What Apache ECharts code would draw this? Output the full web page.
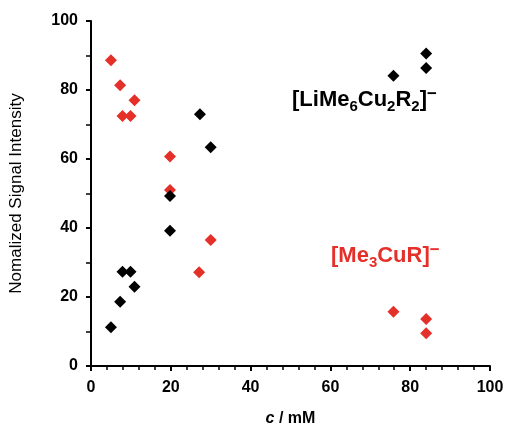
<!DOCTYPE html>
<html><head><meta charset="utf-8">
<script src="https://cdn.jsdelivr.net/npm/echarts@6/dist/echarts.min.js"></script>
<style>html,body{margin:0;padding:0;background:#fff}#c{width:506px;height:427px}</style>
</head><body><div id="c"></div>
<script>
// concentration c / mM and normalized intensities
const cuprateX = [5, 7.3, 7.9, 9.9, 10.9, 19.8, 19.8, 27.3, 30, 75.8, 84, 84];
const cuprateY = [11.2, 18.6, 27.3, 27.3, 23.0, 39.2, 49.3, 73.0, 63.4, 84.1, 90.6, 86.4];
const monoX = [5, 7.3, 7.9, 9.9, 10.9, 19.8, 19.8, 27.1, 30, 75.8, 84, 84];
const monoY = [88.6, 81.4, 72.5, 72.5, 77.0, 60.7, 51.0, 27.2, 36.5, 15.7, 13.6, 9.5];
const xTicks = [0, 20, 40, 60, 80, 100];
const yTicks = [0, 20, 40, 60, 80, 100];

const chart = echarts.init(document.getElementById('c'), null, {renderer: 'canvas'});
const font = 'Liberation Sans, Arial, sans-serif';
const red = '#e5302a';
const axisLine = {show: true, onZero: false, lineStyle: {color: '#000', width: 2}};
chart.setOption({
  animation: false,
  backgroundColor: '#fff',
  grid: {left: 91, right: 16, top: 21, bottom: 61, containLabel: false, outerBoundsMode: 'none'},
  xAxis: {
    type: 'value', min: xTicks[0], max: xTicks[xTicks.length - 1], interval: 20,
    axisLine: axisLine,
    axisTick: {show: true, length: 5, inside: false, lineStyle: {color: '#000', width: 2}},
    minorTick: {show: true, splitNumber: 5, length: 4, lineStyle: {color: '#000', width: 1.5}},
    splitLine: {show: false},
    axisLabel: {color: '#000', fontFamily: font, fontWeight: 'bold', fontSize: 16, margin: 14},
    name: '{i|c} / mM', nameLocation: 'middle', nameGap: 45,
    nameTextStyle: {color: '#000', fontFamily: font, fontWeight: 'bold', fontSize: 16,
      rich: {i: {fontStyle: 'italic', fontWeight: 'bold', fontFamily: font, fontSize: 16, color: '#000'}}}
  },
  yAxis: {
    type: 'value', min: yTicks[0], max: yTicks[yTicks.length - 1], interval: 20,
    axisLine: axisLine,
    axisTick: {show: true, length: 5, inside: false, lineStyle: {color: '#000', width: 2}},
    minorTick: {show: true, splitNumber: 2, length: 5, lineStyle: {color: '#000', width: 1.5}},
    splitLine: {show: false},
    axisLabel: {color: '#000', fontFamily: font, fontWeight: 'bold', fontSize: 16, margin: 13},
    name: 'Nomalized Signal Intensity', nameLocation: 'middle', nameGap: 66,
    nameTextStyle: {color: '#000', fontFamily: font, fontSize: 17}
  },
  series: [
    {type: 'scatter', symbol: 'diamond', symbolSize: 12,
     itemStyle: {color: red, opacity: 1},
     data: monoX.map((x, i) => [x, monoY[i]])},
    {type: 'scatter', symbol: 'diamond', symbolSize: 12,
     itemStyle: {color: '#000', opacity: 1},
     data: cuprateX.map((x, i) => [x, cuprateY[i]])}
  ],
  graphic: [
    {type: 'text', left: 292, top: 86,
     style: {text: '[LiMe{s|6}Cu{s|2}R{s|2}]{p|−}', fill: '#000', font: 'bold 22px ' + font,
       rich: {s: {fontSize: 15, fontWeight: 'bold', fontFamily: font, padding: [14, 0, 0, 0], fill: '#000'},
              p: {fontSize: 17, fontWeight: 'bold', fontFamily: font, padding: [0, 0, 10, 0], fill: '#000'}}}},
    {type: 'text', left: 331, top: 242,
     style: {text: '[Me{s|3}CuR]{p|−}', fill: red, font: 'bold 22px ' + font,
       rich: {s: {fontSize: 15, fontWeight: 'bold', fontFamily: font, padding: [14, 0, 0, 0], fill: red},
              p: {fontSize: 17, fontWeight: 'bold', fontFamily: font, padding: [0, 0, 10, 0], fill: red}}}}
  ]
});
</script></body></html>
